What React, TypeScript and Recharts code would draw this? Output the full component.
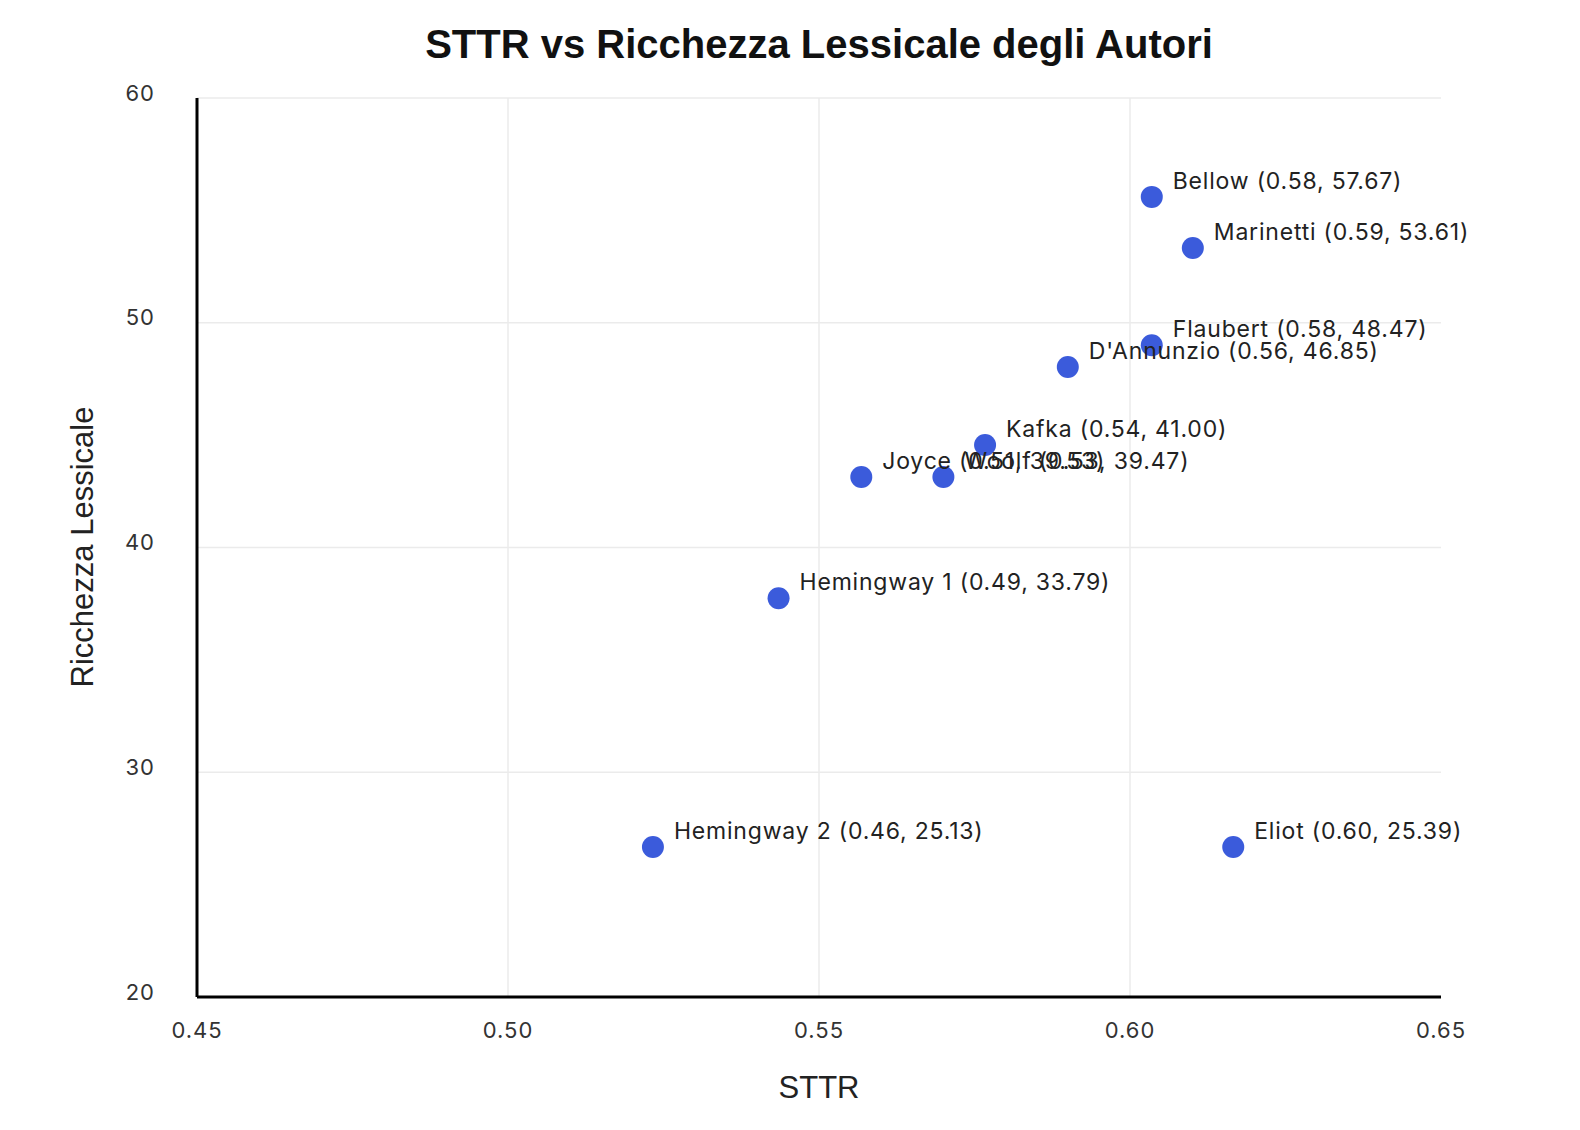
import React from 'react';
import {
  ScatterChart,
  Scatter,
  XAxis,
  YAxis,
  ReferenceLine,
} from 'recharts';

// Autori (posizioni, etichette come nell'originale)
const AUTHORS = ['Bellow', 'Marinetti', 'Flaubert', "D'Annunzio", 'Kafka', 'Joyce', 'Woolf', 'Hemingway 1', 'Hemingway 2', 'Eliot'];
const STTR = [0.6035, 0.6101, 0.6035, 0.590, 0.5767, 0.5568, 0.570, 0.5435, 0.5233, 0.6166];
const RICCHEZZA = [55.6, 53.33, 49.0, 48.03, 44.56, 43.14, 43.14, 37.74, 26.67, 26.67];
const LABELS = [
  'Bellow (0.58, 57.67)',
  'Marinetti (0.59, 53.61)',
  'Flaubert (0.58, 48.47)',
  "D'Annunzio (0.56, 46.85)",
  'Kafka (0.54, 41.00)',
  'Joyce (0.51, 39.53)',
  'Woolf (0.53, 39.47)',
  'Hemingway 1 (0.49, 33.79)',
  'Hemingway 2 (0.46, 25.13)',
  'Eliot (0.60, 25.39)',
];

const X_TICKS = [0.45, 0.5, 0.55, 0.6, 0.65];
const Y_TICKS = [20, 30, 40, 50, 60];
const X_GRID = [0.5, 0.55, 0.6];
const Y_GRID = [30, 40, 50, 60];

const FONT = '"Liberation Sans", Arial, Helvetica, sans-serif';
const SMALL_FONT = 'Inter, "Liberation Sans", Arial, sans-serif';
const DOT = '#3b5bdb';
const GRID = '#ebebeb';

const data = AUTHORS.map((name, i) => ({
  name,
  sttr: STTR[i],
  ricchezza: RICCHEZZA[i],
  label: LABELS[i],
}));

const XTick = ({ x, payload }: any) => (
  <text x={x} y={997 + 41} textAnchor="middle" fontSize={22} letterSpacing={1} fill="#333" fontFamily={SMALL_FONT}>
    {Number(payload.value).toFixed(2)}
  </text>
);

const YTick = ({ y, payload }: any) => (
  <text x={155} y={y + 2.5} textAnchor="end" fontSize={22} letterSpacing={1} fill="#333" fontFamily={SMALL_FONT}>
    {payload.value}
  </text>
);

const Dot = (props: any) => <circle cx={props.cx} cy={props.cy} r={11} fill={DOT} />;

const PointLabel = (props: any) => (
  <text x={props.cx + 21} y={props.cy - 8} fontSize={23} letterSpacing={0.8} fill="#222" fontFamily={SMALL_FONT}>
    {props.payload.label}
  </text>
);

export default function App() {
  return (
    <div style={{ position: 'absolute', left: 0, top: 0, width: 1580, height: 1130, background: '#fff' }}>
      <ScatterChart
        width={1580}
        height={1130}
        margin={{ top: 98, right: 139, bottom: 53, left: 77 }}
      >
        {X_GRID.map((v) => (
          <ReferenceLine key={`gx-${v}`} x={v} stroke={GRID} strokeWidth={1.5} />
        ))}
        {Y_GRID.map((v) => (
          <ReferenceLine key={`gy-${v}`} y={v} stroke={GRID} strokeWidth={1.5} />
        ))}
        <XAxis
          type="number"
          dataKey="sttr"
          domain={[0.45, 0.65]}
          ticks={X_TICKS}
          height={80}
          tickLine={false}
          axisLine={{ stroke: '#000', strokeWidth: 3 }}
          tick={<XTick />}
        />
        <YAxis
          type="number"
          dataKey="ricchezza"
          domain={[20, 60]}
          ticks={Y_TICKS}
          width={120}
          tickLine={false}
          axisLine={{ stroke: '#000', strokeWidth: 3 }}
          tick={<YTick />}
        />
        <Scatter data={data} shape={Dot} isAnimationActive={false} />
        <Scatter data={data} shape={PointLabel} isAnimationActive={false} />
        <text x={819} y={58} textAnchor="middle" fontSize={40} fontWeight="bold" fill="#111" fontFamily={FONT}>
          STTR vs Ricchezza Lessicale degli Autori
        </text>
        <text x={819} y={1098} textAnchor="middle" fontSize={31} fill="#222" fontFamily={FONT}>
          STTR
        </text>
        <text
          x={93}
          y={547}
          textAnchor="middle"
          fontSize={31}
          fill="#222"
          fontFamily={FONT}
          transform="rotate(-90, 93, 547)"
        >
          Ricchezza Lessicale
        </text>
      </ScatterChart>
    </div>
  );
}
